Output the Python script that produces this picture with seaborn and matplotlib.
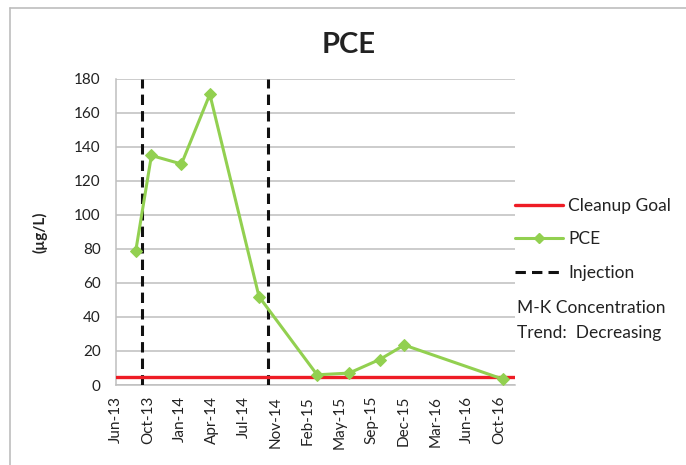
import matplotlib
matplotlib.use("Agg")
import matplotlib.pyplot as plt
import matplotlib.dates as mdates
from matplotlib.lines import Line2D
import numpy as np
import pandas as pd
import seaborn as sns

# PCE sampling results (µg/L)
sample_dates = ["2013-08-25", "2013-10-13", "2014-01-15", "2014-04-14", "2014-09-15",
                "2015-03-16", "2015-06-24", "2015-09-28", "2015-12-14", "2016-10-19"]
pce_values = [79, 135, 130, 171, 52, 6, 7, 15, 23.5, 3.4]

# Injection events and cleanup goal
injection_dates = ["2013-09-13", "2014-10-13"]
cleanup_goal = 5

# Date axis: Excel-style major unit of 100 days
axis_start = "2013-06-24"
axis_days = 1250
tick_step_days = 100

y_max = 180
y_step = 20

trend_text = "M-K Concentration\nTrend:  Decreasing"

green = "#92D050"
grid_gray = "#bfbfbf"
text_color = "#222222"
dash = (0, (3.4, 2.0))

sns.set_style("white")
plt.rcParams["font.family"] = ["Lato", "DejaVu Sans"]

df = pd.DataFrame({"date": pd.to_datetime(sample_dates), "PCE": pce_values})

W, H = 686, 465
fig = plt.figure(figsize=(W / 100, H / 100), dpi=100)
ax = fig.add_axes([116 / W, (H - 385) / H, (515 - 116) / W, (385 - 79) / H])

start = pd.Timestamp(axis_start)
end = start + pd.Timedelta(days=axis_days)
ticks = [start + pd.Timedelta(days=d) for d in range(0, axis_days, tick_step_days)]

ax.set_xlim(start, end)
ax.set_ylim(0, y_max)
ax.set_yticks(np.arange(0, y_max + 1, y_step))
ax.set_xticks(ticks)
ax.xaxis.set_major_formatter(mdates.DateFormatter("%b-%y"))
ax.grid(axis="y", color=grid_gray, linewidth=1.1)
ax.set_axisbelow(True)

for d in injection_dates:
    ax.axvline(pd.Timestamp(d), color="#111111", linestyle=dash, linewidth=2.2, zorder=3)

ax.axhline(cleanup_goal, color="#ee1c25", linewidth=2.4, zorder=4)

sns.lineplot(data=df, x="date", y="PCE", ax=ax, color=green, linewidth=2.2,
             marker="D", markersize=6.5, markeredgecolor=green, zorder=5, legend=False)

for side in ["top", "right"]:
    ax.spines[side].set_visible(False)
for side in ["left", "bottom"]:
    ax.spines[side].set_color(grid_gray)
    ax.spines[side].set_linewidth(1.1)

ax.tick_params(axis="both", which="major", direction="out", length=5, width=1,
               color=grid_gray, labelcolor=text_color, labelsize=11)
ax.tick_params(axis="x", labelrotation=90, pad=3)
ax.tick_params(axis="y", pad=6)
ax.set_xlabel("")
ax.set_ylabel("(µg/L)", fontsize=11, fontweight="bold", color=text_color, labelpad=19)

fig.suptitle("PCE", x=349 / W, y=1 - 32 / H, fontsize=21, fontweight="bold",
             color=text_color, va="top")

handles = [
    Line2D([], [], color="#ee1c25", linewidth=2.4),
    Line2D([], [], color=green, linewidth=2.2, marker="D", markersize=5.5),
    Line2D([], [], color="#111111", linewidth=2.2, linestyle=dash),
]
leg = fig.legend(handles, ["Cleanup Goal", "PCE", "Injection"], loc="upper left",
                 bbox_to_anchor=(515 / W, 1 - 198 / H), frameon=False, fontsize=12.5,
                 handlelength=2.75, handletextpad=0.3, labelspacing=1.0,
                 borderpad=0, borderaxespad=0, labelcolor=text_color)

fig.text(517 / W, 1 - 300 / H, trend_text, fontsize=12.5, color=text_color,
         va="top", ha="left", linespacing=1.72)

# outer chart frame
fig.add_artist(Line2D([10 / W, 10 / W], [0, 1 - 8 / H], color="#bdbdbd", linewidth=1.2))
fig.add_artist(Line2D([10 / W, 1], [1 - 8 / H, 1 - 8 / H], color="#bdbdbd", linewidth=1.2))

fig.savefig("out.png", dpi=100)
